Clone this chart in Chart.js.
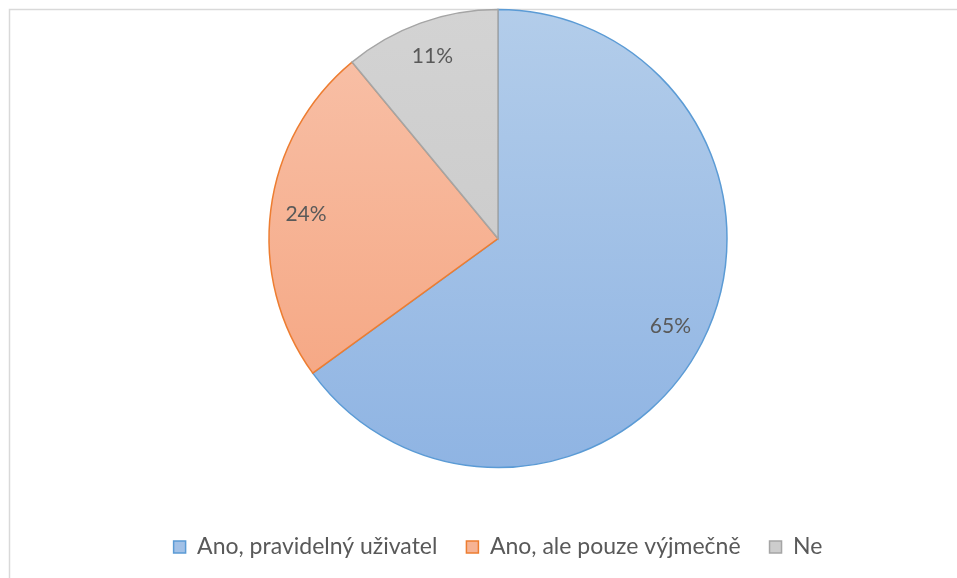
<!DOCTYPE html>
<html>
<head>
<meta charset="utf-8">
<script src="https://cdn.jsdelivr.net/npm/chart.js@4/dist/chart.umd.min.js"></script>
<style>
  html, body { margin: 0; padding: 0; background: #fff; }
  #wrap { width: 957px; height: 578px; }
</style>
</head>
<body>
<div id="wrap"><canvas id="pie" width="957" height="578"></canvas></div>
<script>
// data
const labels = ['Ano, pravidelný uživatel', 'Ano, ale pouze výjmečně', 'Ne'];
const values = [65, 24, 11];
const pctLabels = ['65%', '24%', '11%'];

// fill gradient (top, bottom), border and legend colours per slice
const topColors    = ['#b3cdea', '#f8c2aa', '#d3d3d3'];
const bottomColors = ['#8fb4e3', '#f5a27c', '#c6c6c6'];
const borderColors = ['#5b9bd5', '#ed7d31', '#a5a5a5'];
const legendFill   = ['#a2c1e7', '#f6b394', '#cdcdcd'];

const FONT = 'Lato, "Open Sans", sans-serif';
const TEXT = '#595959';

// light gray frame around the plot like the office export
const framePlugin = {
  id: 'frame',
  beforeDraw(chart) {
    const ctx = chart.ctx;
    ctx.save();
    ctx.strokeStyle = '#d9d9d9';
    ctx.lineWidth = 1.5;
    ctx.strokeRect(9.5, 9.5, chart.width + 20, chart.height + 20);
    ctx.restore();
  }
};

// percentage labels inside the slices
const pctPlugin = {
  id: 'pctLabels',
  afterDatasetsDraw(chart) {
    const ctx = chart.ctx;
    const meta = chart.getDatasetMeta(0);
    ctx.save();
    ctx.font = '21px ' + FONT;
    ctx.fillStyle = TEXT;
    ctx.textAlign = 'center';
    ctx.textBaseline = 'middle';
    meta.data.forEach((arc, i) => {
      const p = arc.getProps(['x', 'y', 'startAngle', 'endAngle', 'outerRadius'], true);
      const mid = (p.startAngle + p.endAngle) / 2;
      const r = p.outerRadius * 0.845;
      ctx.fillText(pctLabels[i], p.x + Math.cos(mid) * r, p.y + Math.sin(mid) * r);
    });
    ctx.restore();
  }
};

function sliceGradient(ctx, i) {
  const area = ctx.chart.chartArea;
  if (!area) return topColors[i];
  const g = ctx.chart.ctx.createLinearGradient(0, area.top, 0, area.bottom);
  g.addColorStop(0, topColors[i]);
  g.addColorStop(1, bottomColors[i]);
  return g;
}

new Chart(document.getElementById('pie'), {
  type: 'pie',
  data: {
    labels,
    datasets: [{
      data: values,
      backgroundColor: c => sliceGradient(c, c.dataIndex),
      borderColor: borderColors,
      borderWidth: 1.5,
      borderJoinStyle: 'miter'
    }]
  },
  options: {
    responsive: false,
    animation: false,
    radius: 229,
    layout: { padding: { top: 9, left: 39, right: 0, bottom: 9.5 } },
    plugins: {
      tooltip: { enabled: false },
      legend: {
        position: 'bottom',
        title: { display: true, text: ' ', font: { size: 12 }, padding: { top: 24, bottom: 0 } },
        labels: {
          font: { family: FONT, size: 23 },
          color: TEXT,
          boxWidth: 12,
          boxHeight: 12,
          padding: 29,
          generateLabels: chart => labels.map((t, i) => ({
            text: t,
            fillStyle: legendFill[i],
            strokeStyle: borderColors[i],
            lineWidth: 1.5,
            fontColor: TEXT,
            hidden: false,
            index: i
          }))
        }
      }
    }
  },
  plugins: [framePlugin, pctPlugin]
});
</script>
</body>
</html>
